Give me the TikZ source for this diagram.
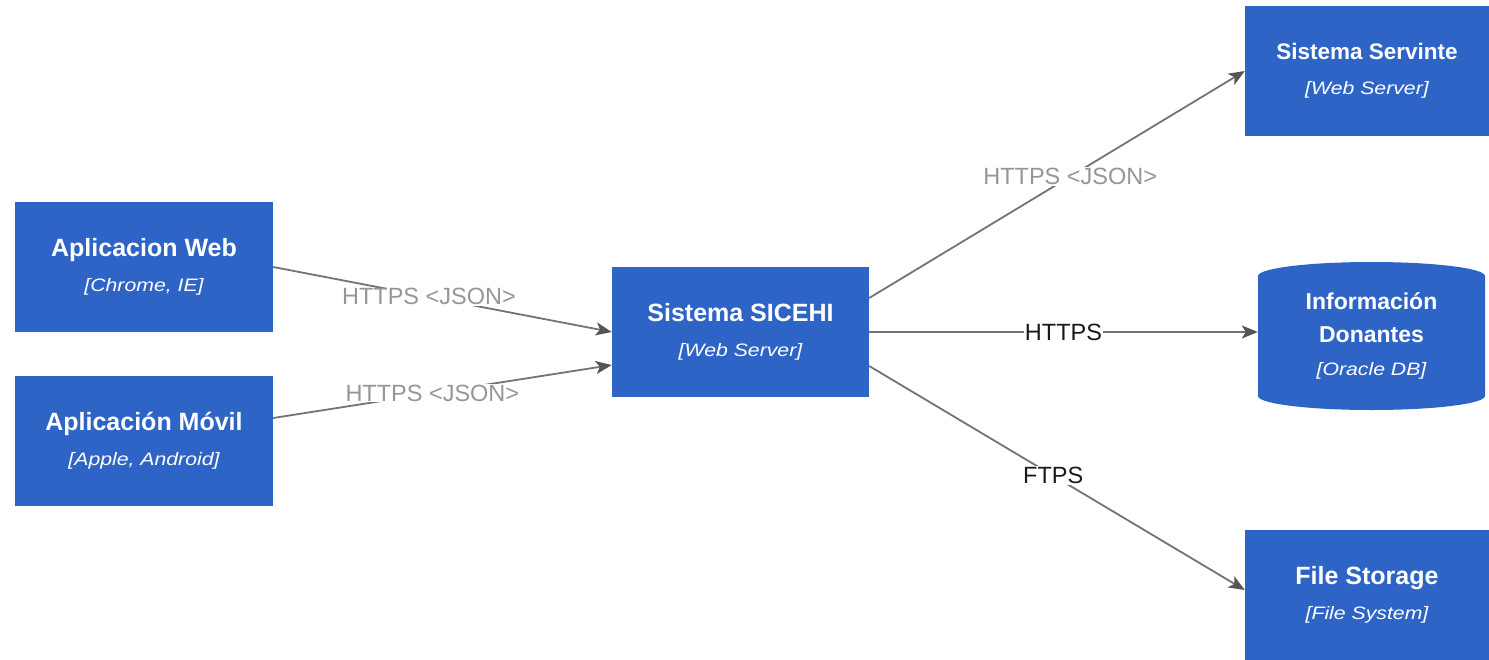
\documentclass[tikz,border=0pt]{standalone}
\usepackage{fontspec}
\setmainfont{Liberation Sans}
\newfontfamily\subfnt[FakeStretch=1.18]{Liberation Sans}
\usetikzlibrary{arrows.meta,calc}
\definecolor{boxblue}{RGB}{46,100,198}
\definecolor{linegray}{RGB}{115,115,115}
\definecolor{headgray}{RGB}{85,85,85}
\definecolor{lblgray}{RGB}{150,150,150}
\definecolor{lbldark}{RGB}{25,25,25}
\newcommand{\ttl}[2][25]{{\fontsize{#1}{30}\selectfont\bfseries #2}}
\newcommand{\sub}[1]{{\subfnt\itshape\fontsize{18}{30}\selectfont #1}}
\begin{document}
\begin{tikzpicture}[x=1pt,y=-1pt,
  sysbox/.style={fill=boxblue, draw=none, minimum width=258pt, minimum height=130pt,
    inner sep=0pt, text=white, align=center, font=\fontsize{25}{35}\selectfont},
  conn/.style={draw=linegray, line width=1.8pt,
    -{Stealth[length=16pt,width=13pt,inset=4pt,color=headgray]}},
  lbl/.style={fill=white, inner sep=1pt, font=\fontsize{23.5}{26}\selectfont},
  graylbl/.style={lbl, text=lblgray},
  darklbl/.style={lbl, text=lbldark}]
\useasboundingbox (0,0) rectangle (1489,659);
\fill[white] (0,0) rectangle (1489,659);

% nodes
\node[sysbox] (web) at (144,267) {\ttl{Aplicacion Web}\\\sub{[Chrome, IE]}};
\node[sysbox] (movil) at (144,441) {\ttl{Aplicación Móvil}\\\sub{[Apple, Android]}};
\node[sysbox, minimum width=257pt] (sicehi) at (740.5,332) {\ttl{Sistema SICEHI}\\\sub{[Web Server]}};
\node[sysbox, minimum width=244pt] (servinte) at (1367,71) {\ttl[22.5]{Sistema Servinte}\\\sub{[Web Server]}};
\node[sysbox, minimum width=244pt] (files) at (1367,595) {\ttl{File Storage}\\\sub{[File System]}};

% cylinder
\fill[boxblue] (1258,276) -- (1258,396)
  arc[start angle=180, end angle=360, x radius=113.5pt, y radius=14pt]
  -- (1485,276)
  arc[start angle=0, end angle=180, x radius=113.5pt, y radius=14pt] -- cycle;
\node[inner sep=0pt, minimum width=227pt, minimum height=148pt, text=white, align=center,
  font=\fontsize{23}{34}\selectfont] (db) at (1371.5,336)
  {\raisebox{-11pt}{\parbox{227pt}{\centering\ttl[23]{Información}\\[-1pt]\ttl[23]{Donantes}\\[-1pt]\sub{[Oracle DB]}}}};

% connectors
\draw[conn] (web.east) -- (sicehi.west)
  node[graylbl, pos=0.46] (l1) {HTTPS <JSON>};
\draw[conn] ([yshift=23pt]movil.east) -- ([yshift=-33pt]sicehi.west)
  node[graylbl, pos=0.47] (l2) {HTTPS <JSON>};
\draw[conn] ([yshift=34pt]sicehi.east) -- (servinte.west)
  node[graylbl, pos=0.535] (l3) {HTTPS <JSON>};
\draw[conn] (sicehi.east) -- (sicehi.east -| db.west)
  node[darklbl, pos=0.5] (l4) {HTTPS};
\draw[conn] ([yshift=-34pt]sicehi.east) -- ([yshift=5pt]files.west)
  node[darklbl, pos=0.49] (l5) {FTPS};
\end{tikzpicture}
\end{document}
